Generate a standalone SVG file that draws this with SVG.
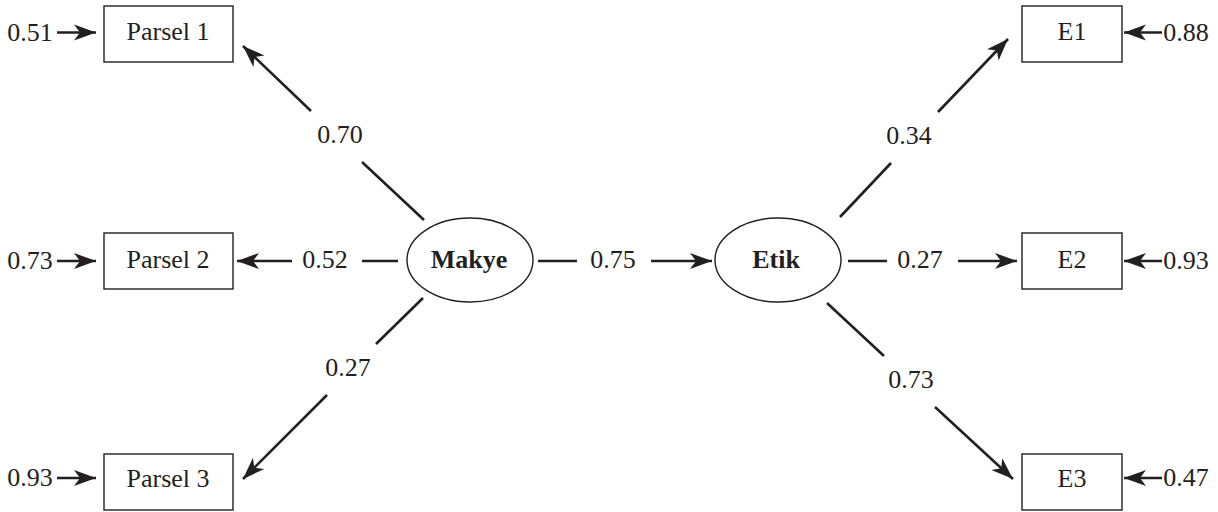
<svg xmlns="http://www.w3.org/2000/svg" width="1218" height="512" viewBox="0 0 1218 512">
<style>
.box{fill:#fff;stroke:#231f20;stroke-width:1.4}
.ell{fill:#fff;stroke:#231f20;stroke-width:1.4}
.t{font-family:"Liberation Serif","Times New Roman",serif;font-size:26px;fill:#231f20;text-anchor:middle}
.b{font-weight:bold}
.ln{stroke:#231f20;stroke-width:2.6;fill:none}
.ar{stroke:#231f20;stroke-width:2.6;fill:none;marker-end:url(#ah)}
.er{stroke:#231f20;stroke-width:2.6;fill:none;marker-end:url(#ah)}
</style>
<defs>
<marker id="ah" markerUnits="userSpaceOnUse" viewBox="-24 -10 26 20" refX="0" refY="0" markerWidth="26" markerHeight="20" orient="auto">
<path d="M0,0 L-22,-8 L-16,0 L-22,8 Z" fill="#231f20"/>
</marker>
</defs>
<rect width="1218" height="512" fill="#fff"/>
<g id="parsel1"><rect class="box" x="104" y="6" width="129" height="56"/><text class="t" x="168" y="40">Parsel 1</text></g>
<g id="parsel2"><rect class="box" x="104" y="233" width="129" height="56"/><text class="t" x="168" y="268">Parsel 2</text></g>
<g id="parsel3"><rect class="box" x="104" y="454" width="129" height="56"/><text class="t" x="168" y="487">Parsel 3</text></g>
<g id="e1"><rect class="box" x="1022" y="6" width="100" height="56"/><text class="t" x="1072" y="40">E1</text></g>
<g id="e2"><rect class="box" x="1022" y="233" width="100" height="56"/><text class="t" x="1072" y="268">E2</text></g>
<g id="e3"><rect class="box" x="1022" y="454" width="100" height="56"/><text class="t" x="1072" y="487">E3</text></g>
<g id="makye"><ellipse class="ell" cx="470" cy="260" rx="63" ry="42"/><text class="t b" x="469" y="268">Makye</text></g>
<g id="etik"><ellipse class="ell" cx="778" cy="260" rx="63" ry="42"/><text class="t b" x="776" y="268">Etik</text></g>
<g id="connectors">
<line class="ln" x1="424" y1="220" x2="362" y2="162"/>
<line class="ar" x1="311" y1="111" x2="243" y2="46"/>
<line class="ln" x1="423" y1="298" x2="376" y2="344"/>
<line class="ar" x1="327" y1="395" x2="243" y2="479"/>
<line class="ln" x1="398" y1="261" x2="362" y2="261"/>
<line class="ar" x1="292" y1="261" x2="237" y2="261"/>
<line class="ln" x1="538" y1="261" x2="577" y2="261"/>
<line class="ar" x1="651" y1="261" x2="712" y2="261"/>
<line class="ln" x1="848" y1="261" x2="887" y2="261"/>
<line class="ar" x1="958" y1="261" x2="1017" y2="261"/>
<line class="ln" x1="840" y1="217" x2="891" y2="163"/>
<line class="ar" x1="938" y1="112" x2="1008" y2="39"/>
<line class="ln" x1="827" y1="303" x2="884" y2="356"/>
<line class="ar" x1="935" y1="407" x2="1013" y2="479"/>
<line class="er" x1="57" y1="32.5" x2="96" y2="32.5"/>
<line class="er" x1="57" y1="261" x2="96" y2="261"/>
<line class="er" x1="57" y1="478" x2="96" y2="478"/>
<line class="er" x1="1162" y1="32.5" x2="1124" y2="32.5"/>
<line class="er" x1="1162" y1="261" x2="1124" y2="261"/>
<line class="er" x1="1162" y1="478" x2="1124" y2="478"/>
<text class="t" x="340" y="143">0.70</text>
<text class="t" x="348" y="376">0.27</text>
<text class="t" x="325" y="268">0.52</text>
<text class="t" x="613" y="268">0.75</text>
<text class="t" x="920" y="268">0.27</text>
<text class="t" x="909" y="144">0.34</text>
<text class="t" x="911" y="388">0.73</text>
<text class="t" x="30" y="41">0.51</text>
<text class="t" x="30" y="269">0.73</text>
<text class="t" x="30" y="486">0.93</text>
<text class="t" x="1186" y="41">0.88</text>
<text class="t" x="1186" y="269">0.93</text>
<text class="t" x="1186" y="486">0.47</text>
</g>
</svg>
